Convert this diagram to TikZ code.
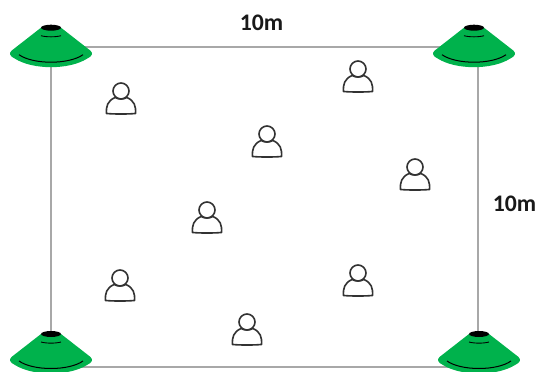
\documentclass[tikz,border=0pt]{standalone}
\usepackage{fontspec}
\setmainfont{Carlito}
\definecolor{conegreen}{RGB}{0,178,76}
\definecolor{linegray}{RGB}{168,168,168}
\definecolor{persongray}{RGB}{50,50,50}
\tikzset{
  fieldline/.style={draw=linegray,line width=1.9pt},
  dist/.style={font=\bfseries\fontsize{17.8pt}{19pt}\selectfont,inner sep=0pt,text=black!90},
  cone/.pic={
    \fill[conegreen] (-10,0) -- (-39.5,23)
      .. controls (-42,25.5) and (-41.5,28.5) .. (-36,31)
      .. controls (-18,42.3) and (18,42.3) .. (36,31)
      .. controls (41.5,28.5) and (42,25.5) .. (39.5,23) -- (10,0) -- cycle;
    \fill[black] (0,0) ellipse (10 and 3);
    \draw[black,line width=.65pt] (-10,8) .. controls (-5,9.5) and (5,9.5) .. (10,8);
    \draw[black,line width=.75pt] (-32,27) .. controls (-18,37) and (18,37) .. (32,27);
  },
  person/.pic={
    \draw[persongray,line width=1.2pt] (0,-8) circle (8);
    \draw[persongray,line width=1.2pt,line join=round]
      (-14.5,14.5) .. controls (-15,7) and (-13.5,2) .. (-6,-1.5)
      .. controls (-2,0.5) and (2,0.5) .. (6,-1.5)
      .. controls (13.5,2) and (15,7) .. (14.5,14.5)
      .. controls (6,15.2) and (-6,15.2) .. cycle;
  }
}
\begin{document}
\begin{tikzpicture}[x=.75pt,y=-.75pt]
\useasboundingbox (0,0) rectangle (535,371);
\clip (0,0) rectangle (535,371);
\fill[white] (0,0) rectangle (535,371);
\coordinate (tl) at (51,47);
\coordinate (tr) at (478,47);
\coordinate (br) at (478,367);
\coordinate (bl) at (51,367);
\draw[fieldline] (tl) -- (tr) -- (br) -- (bl) -- cycle;
\pic at (51,27.7) {cone};
\pic at (474,27.7) {cone};
\pic at (51,334) {cone};
\pic at (479,334) {cone};
\pic at (121,99) {person};
\pic at (358,77) {person};
\pic at (267,142) {person};
\pic at (415,175) {person};
\pic at (207,218) {person};
\pic at (120,286) {person};
\pic at (358,281) {person};
\pic at (247,330) {person};
\node[dist] (topdist) at (261.5,23) {10m};
\node[dist] (sidedist) at (514.5,204) {10m};
\end{tikzpicture}
\end{document}
